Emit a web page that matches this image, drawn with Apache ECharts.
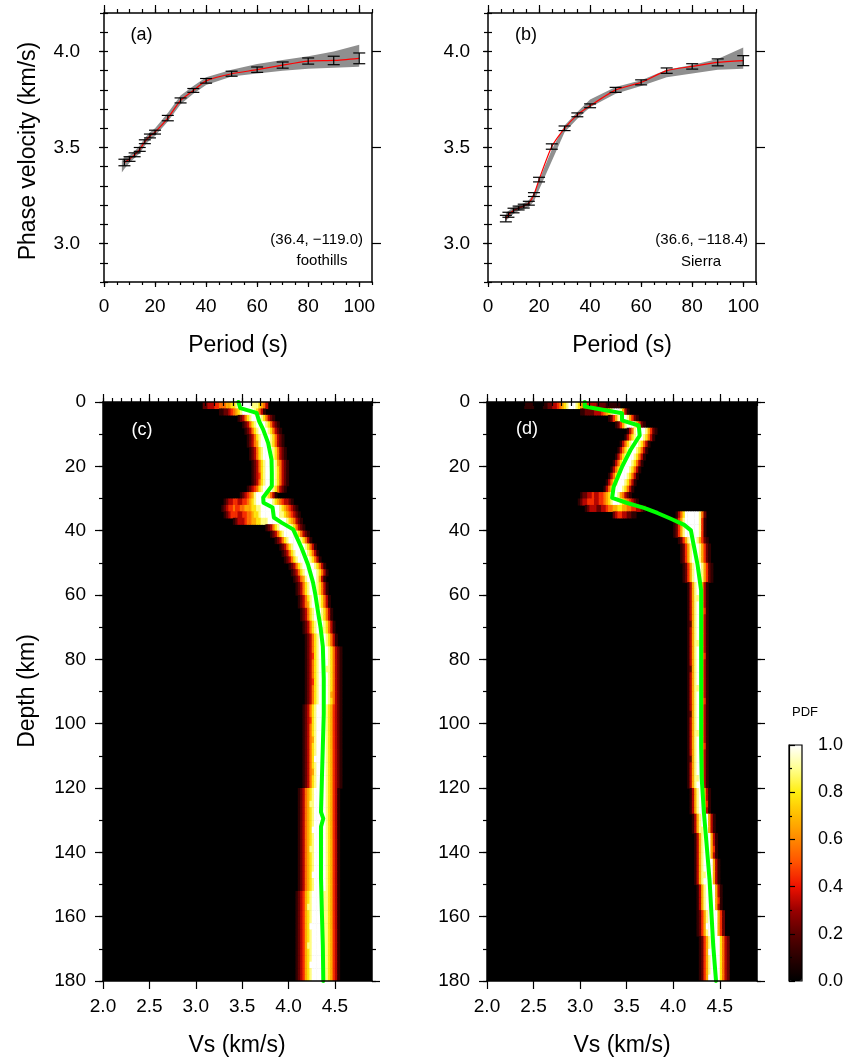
<!DOCTYPE html>
<html><head><meta charset="utf-8">
<script src="https://cdn.jsdelivr.net/npm/echarts@6/dist/echarts.min.js"></script>
<style>html,body{margin:0;padding:0;background:#fff;}#chart{width:850px;height:1061px;}</style>
</head><body><div id="chart"></div>
<script>
// ---------------- data ----------------
const periodsA = [8,10,12,14,16,18,20,25,30,35,40,50,60,70,80,90,100];
const velA = [3.422,3.44,3.462,3.49,3.53,3.56,3.58,3.653,3.745,3.797,3.847,3.884,3.905,3.929,3.95,3.953,3.964];
const errA = [0.017,0.012,0.01,0.01,0.01,0.01,0.01,0.014,0.013,0.01,0.012,0.013,0.014,0.016,0.016,0.022,0.028];
const bandPeriodsA = [7,8,10,12,14,16,18,20,25,30,35,40,50,60,70,80,90,100];
const bandHiA = [3.43,3.45,3.46,3.48,3.51,3.55,3.58,3.60,3.68,3.77,3.82,3.865,3.905,3.935,3.955,3.975,4.00,4.035];
const bandLoA = [3.37,3.39,3.42,3.445,3.47,3.51,3.54,3.56,3.635,3.725,3.78,3.825,3.87,3.885,3.90,3.91,3.915,3.92];

const periodsB = [7,8,10,12,14,16,18,20,25,30,35,40,50,60,70,80,90,100];
const velB = [3.13,3.15,3.172,3.185,3.195,3.21,3.255,3.333,3.505,3.60,3.67,3.717,3.80,3.839,3.90,3.922,3.943,3.952];
const errB = [0.017,0.013,0.012,0.01,0.01,0.01,0.01,0.012,0.014,0.012,0.01,0.01,0.013,0.013,0.014,0.014,0.018,0.026];
const bandPeriodsB = [7,8,10,12,14,16,18,20,25,30,35,40,50,60,70,80,90,100];
const bandHiB = [3.16,3.17,3.19,3.20,3.21,3.225,3.26,3.33,3.49,3.615,3.685,3.75,3.815,3.85,3.905,3.93,3.96,4.02];
const bandLoB = [3.12,3.13,3.155,3.17,3.18,3.19,3.22,3.28,3.43,3.58,3.65,3.71,3.78,3.82,3.865,3.885,3.905,3.91];

// mean Vs models (green lines)
const greenDepthC = [0,1.9,3.4,6,8.6,12.7,17.9,22,26.1,29.7,31.3,32.8,35.9,37.5,39.6,45.3,50.5,56.2,60,65.6,70,76,86,97,107,117,127.5,129.5,132,138,148,159,169,180];
const greenVsC = [3.46,3.48,3.656,3.684,3.727,3.78,3.817,3.82,3.82,3.727,3.73,3.828,3.842,3.925,4.05,4.14,4.21,4.265,4.29,4.32,4.345,4.37,4.38,4.38,4.37,4.36,4.35,4.375,4.35,4.35,4.35,4.36,4.37,4.375];
const greenDepthD = [0,1.4,3.5,5.7,7.3,10.4,15,20.2,26.4,29.8,31.4,32.9,34.5,36.3,38.2,39.9,43,50.3,58.6,65.6,76,86,97,107,117,127.7,138,148.4,158.7,169,180];
const greenVsD = [3.05,3.05,3.45,3.45,3.63,3.64,3.54,3.45,3.36,3.344,3.506,3.686,3.83,3.974,4.118,4.19,4.21,4.26,4.30,4.30,4.30,4.30,4.30,4.30,4.306,4.33,4.36,4.39,4.41,4.43,4.46];

// PDF rows: [top depth (km, 2 km rows), first Vs bin (0.025 km/s bins from 2.0), PDF digits 0-9 (= value*9)]
const pdfRowsC = [
 [0,43,"2233344555667789999998887653"],
 [2,50,"11223456789999987531"],
 [4,58,"1235789999875321"],
 [6,60,"1235789999875321"],
 [8,61,"1235789999875321"],
 [10,62,"1235789999875321"],
 [12,62,"1235689999875321"],
 [14,63,"1235789999875321"],
 [16,63,"1235789999875321"],
 [18,64,"1235789999865321"],
 [20,64,"1235789999875321"],
 [22,64,"1234789999875321"],
 [24,64,"1235789999875321"],
 [26,62,"12345789999875321"],
 [28,59,"1234568999987531"],
 [30,52,"123344334456789999999876543321"],
 [32,51,"123445445566677889999999987654321"],
 [34,52,"123444334455677899999999887654321"],
 [36,56,"123334556677888999999998765321"],
 [38,70,"12357899999875321"],
 [40,72,"12357899999875321"],
 [42,74,"1235789999987531"],
 [44,76,"1235789999987531"],
 [46,77,"1235789999987531"],
 [48,78,"1235789999987531"],
 [50,80,"1235789999987531"],
 [52,81,"1235789999987531"],
 [54,82,"12356899998631"],
 [56,83,"12357899987531"],
 [58,83,"12357899987531"],
 [60,84,"12357899987531"],
 [62,84,"12356899987531"],
 [64,85,"12357899987531"],
 [66,85,"12357899987531"],
 [68,86,"12357899987531"],
 [70,86,"12357899887531"],
 [72,87,"12357899987531"],
 [74,87,"12357899987531"],
 [76,87,"1235789999875321"],
 [78,87,"1234789999875321"],
 [80,87,"1235789999875321"],
 [82,87,"1235789998875321"],
 [84,87,"1235789999875321"],
 [86,87,"1234789999875321"],
 [88,87,"1235789999875321"],
 [90,87,"1235789999865321"],
 [92,87,"1235789999875321"],
 [94,86,"12357899998764321"],
 [96,86,"12357899998764321"],
 [98,86,"12347899998764321"],
 [100,86,"12357899998764321"],
 [102,86,"12357899998764321"],
 [104,86,"12356899998764321"],
 [106,86,"12357899998764321"],
 [108,86,"12357899998764321"],
 [110,86,"12357999998764321"],
 [112,86,"12357899998764321"],
 [114,86,"12356899998764321"],
 [116,86,"12357899998764321"],
 [118,86,"12357899998764321"],
 [120,84,"123567899999876431"],
 [122,84,"123567899999876431"],
 [124,84,"123568899999876431"],
 [126,84,"123567899999876431"],
 [128,84,"123567899999876431"],
 [130,84,"123567899999876431"],
 [132,84,"123567999999876431"],
 [134,84,"123567899999876431"],
 [136,84,"123567899999876431"],
 [138,84,"123568899999876431"],
 [140,84,"123567899999876431"],
 [142,84,"123567899999876431"],
 [144,84,"123567899999876431"],
 [146,84,"123567999999876431"],
 [148,84,"123567899999876431"],
 [150,84,"123567899999876431"],
 [152,83,"1234678999998876431"],
 [154,83,"1234678999998876431"],
 [156,83,"1234688999998876431"],
 [158,83,"1234678999998876431"],
 [160,83,"1234678999998876431"],
 [162,83,"1234679999998876431"],
 [164,83,"1234678999998876431"],
 [166,83,"1234678999998876431"],
 [168,83,"1234688999998876431"],
 [170,83,"1234678999998876431"],
 [172,83,"1234678999998876431"],
 [174,83,"1234679999998876431"],
 [176,83,"1234678999998876431"],
 [178,83,"1234678999998876431"]
];
const pdfRowsD = [
 [0,16,"11110000112233456789998765443332222111111"],
 [2,40,"112222333456789998631"],
 [4,52,"1246899986421"],
 [6,55,"1246899986421"],
 [8,60,"1358999986421"],
 [10,59,"1357899987531"],
 [12,57,"1357899987531"],
 [14,56,"1357899987531"],
 [16,55,"1357899987531"],
 [18,54,"1357899987531"],
 [20,53,"1357899987531"],
 [22,52,"1357899987531"],
 [24,51,"1357899987531"],
 [26,50,"1357899987531"],
 [28,40,"1223343344567999865321"],
 [30,39,"12334443344567899987654321"],
 [32,42,"12333223345566776655443321"],
 [34,54,"2344332211"],
 [34,81,"1357999999852"],
 [36,80,"12468999999841"],
 [38,80,"12468999999841"],
 [40,80,"12468999999841"],
 [42,82,"1246899986421"],
 [44,83,"1246899986421"],
 [46,83,"1246899986421"],
 [48,83,"1246899986421"],
 [50,84,"1246899986421"],
 [52,84,"1246899986421"],
 [54,84,"1246899986421"],
 [56,86,"136899631"],[58,86,"136899631"],[60,86,"136889631"],[62,86,"136899631"],
 [64,86,"136899641"],[66,86,"136899631"],[68,86,"126899631"],[70,86,"136899631"],
 [72,86,"136899631"],[74,86,"136889631"],[76,86,"136899631"],[78,86,"136899641"],
 [80,86,"136899631"],[82,86,"126899631"],[84,86,"136899631"],[86,86,"136899631"],
 [88,86,"136889631"],[90,86,"136899631"],[92,86,"136899641"],[94,86,"136899631"],
 [96,86,"126899631"],[98,86,"136899631"],[100,86,"136899631"],[102,86,"136889631"],
 [104,86,"136899631"],[106,86,"136899641"],[108,86,"136899631"],[110,86,"126899631"],
 [112,86,"136899631"],[114,86,"136899631"],[116,86,"136889631"],[118,86,"136899631"],
 [120,87,"136899631"],[122,87,"136899631"],[124,87,"136899641"],[126,87,"136899631"],
 [128,88,"1368999631"],[130,88,"1368999631"],[132,88,"1368899631"],
 [134,89,"1368999631"],[136,89,"1368999631"],[138,89,"1368999641"],[140,89,"1368999631"],
 [142,89,"13689999631"],[144,89,"13689999631"],[146,89,"13688999631"],[148,89,"13689999631"],
 [150,90,"13689999631"],[152,90,"13689999631"],[154,90,"13689999641"],[156,90,"13689999631"],
 [158,90,"124689999642"],[160,90,"124689999642"],[162,90,"124699999642"],[164,90,"124689999642"],
 [166,91,"1246899997532"],[168,91,"1246899997532"],[170,91,"1246999997532"],[172,91,"1246899997532"],
 [174,91,"1246899997532"],[176,91,"1246899997532"],[178,91,"1246999997532"]
];

// tick values
const periodMajor = [0,20,40,60,80,100];
const periodMinor = [0,5,10,15,20,25,30,35,40,45,50,55,60,65,70,75,80,85,90,95,100,105];
const velMajor = [3.0,3.5,4.0];
const velMinor = [2.8,2.9,3.0,3.1,3.2,3.3,3.4,3.5,3.6,3.7,3.8,3.9,4.0,4.1,4.2];
const vsMajor = [2.0,2.5,3.0,3.5,4.0,4.5];
const vsMinor = [2.0,2.1,2.2,2.3,2.4,2.5,2.6,2.7,2.8,2.9,3.0,3.1,3.2,3.3,3.4,3.5,3.6,3.7,3.8,3.9,4.0,4.1,4.2,4.3,4.4,4.5,4.6,4.7,4.8,4.9];
const depthMajor = [0,20,40,60,80,100,120,140,160,180];
const depthMinor = [0,10,20,30,40,50,60,70,80,90,100,110,120,130,140,150,160,170,180];
const pdfBinVs = 0.025, pdfBinDepth = 2;

// ---------------- chart ----------------
const FONT = '"Liberation Sans", Arial, Helvetica, sans-serif';
const hot = ['#000000','#2a0000','#5a0000','#9a0000','#ee1100','#ff5000','#ff8800','#ffbb00','#ffee10','#ffff90','#ffffff'];

function cellsFrom(rows){
  const out = [];
  rows.forEach(r => {
    for (let j = 0; j < r[2].length; j++) {
      const v = +r[2][j] / 9;
      if (v > 0) out.push([2.0 + (r[1] + j) * pdfBinVs, r[0], v]);
    }
  });
  return out;
}

function axisSet(g, o){
  const base = {gridIndex:g, type:'value', min:o.min, max:o.max, inverse:!!o.inverse, splitLine:{show:false}, z:10};
  const line = {show:true, onZero:false, lineStyle:{color:'#000', width:1.5}};
  const tick = (vals,len)=>({show:true, inside:false, length:len, customValues:vals, lineStyle:{color:'#000', width:1.2}});
  return [
    Object.assign({}, base, {position:o.p1, axisLine:line, axisTick:tick(o.major,o.l1), axisLabel:{show:true, customValues:o.major, formatter:o.fmt, margin:o.margin, fontSize:o.fs, fontFamily:FONT, color:'#000'}}),
    Object.assign({}, base, {position:o.p1, axisLine:{show:false}, axisTick:tick(o.minor,o.l1m), axisLabel:{show:false}}),
    Object.assign({}, base, {position:o.p2, axisLine:line, axisTick:tick(o.major,o.l2), axisLabel:{show:false}}),
    Object.assign({}, base, {position:o.p2, axisLine:{show:false}, axisTick:tick(o.minor,o.l2m), axisLabel:{show:false}})
  ];
}

const fmtInt = v => String(Math.round(v));
const fmt1 = v => Number(v).toFixed(1);

const xAxes = [], yAxes = [];
[[0,24],[1,18]].forEach(([g,m]) => {
  xAxes.push(...axisSet(g,{min:0,max:105,major:periodMajor,minor:periodMinor,fmt:fmtInt,p1:'bottom',p2:'top',l1:5,l1m:3,l2:8,l2m:4,margin:15,fs:19}));
  yAxes.push(...axisSet(g,{min:2.8,max:4.2,major:velMajor,minor:velMinor,fmt:fmt1,p1:'left',p2:'right',l1:5,l1m:4,l2:9,l2m:4,margin:m,fs:19}));
});
[2,3].forEach(g => {
  xAxes.push(...axisSet(g,{min:2.0,max:4.9,major:vsMajor,minor:vsMinor,fmt:fmt1,p1:'bottom',p2:'top',l1:8,l1m:4,l2:8,l2m:4,margin:16,fs:19}));
  yAxes.push(...axisSet(g,{min:0,max:180,inverse:true,major:depthMajor,minor:depthMinor,fmt:fmtInt,p1:'left',p2:'right',l1:8,l1m:4,l2:8,l2m:4,margin:17,fs:19}));
});
xAxes.push({gridIndex:4, type:'value', min:0, max:1, show:false});
yAxes.push({gridIndex:4, type:'value', min:0, max:1, interval:0.2, position:'right', z:10,
  axisLine:{show:true, lineStyle:{color:'#000', width:1.2}},
  axisTick:{show:true, length:6, lineStyle:{color:'#000', width:1.2}},
  minorTick:{show:true, splitNumber:2, length:3, lineStyle:{color:'#000', width:1.2}},
  splitLine:{show:false}, minorSplitLine:{show:false},
  axisLabel:{formatter:fmt1, margin:16, fontSize:18, fontFamily:FONT, color:'#000'}});

function bandSeries(ax, per, lo, hi){
  return {type:'custom', xAxisIndex:ax, yAxisIndex:ax, silent:true, z:1,
    data: per.map((p,i)=>[p, lo[i], hi[i]]), encode:{x:0, y:[1,2]},
    renderItem(params, api){
      if (params.dataIndex !== 0) return null;
      const pts = [];
      for (let i=0;i<per.length;i++) pts.push(api.coord([per[i], hi[i]]));
      for (let i=per.length-1;i>=0;i--) pts.push(api.coord([per[i], lo[i]]));
      return {type:'polygon', shape:{points:pts}, style:{fill:'#8f8f8f'}};
    }};
}
function lineSeries(ax, per, vel){
  return {type:'line', xAxisIndex:ax, yAxisIndex:ax, data: per.map((p,i)=>[p, vel[i]]), showSymbol:false, smooth:0.2, z:3,
    lineStyle:{color:'#ff0000', width:1.2}, silent:true};
}
function errSeries(ax, per, vel, err){
  return {type:'custom', xAxisIndex:ax, yAxisIndex:ax, silent:true, z:4,
    data: per.map((p,i)=>[p, vel[i], err[i]]), encode:{x:0, y:1},
    renderItem(params, api){
      const p = api.value(0), v = api.value(1), e = api.value(2);
      const a = api.coord([p, v+e]), b = api.coord([p, v-e]);
      const w = 6, st = {stroke:'#000', lineWidth:1.2};
      return {type:'group', children:[
        {type:'line', shape:{x1:a[0],y1:a[1],x2:b[0],y2:b[1]}, style:st},
        {type:'line', shape:{x1:a[0]-w,y1:a[1],x2:a[0]+w,y2:a[1]}, style:st},
        {type:'line', shape:{x1:b[0]-w,y1:b[1],x2:b[0]+w,y2:b[1]}, style:st}
      ]};
    }};
}
function heatSeries(ax, rows){
  return {type:'custom', xAxisIndex:ax, yAxisIndex:ax, silent:true, z:2, clip:true,
    data: cellsFrom(rows), encode:{x:0, y:1},
    renderItem(params, api){
      const vs = api.value(0), d = api.value(1);
      const p1 = api.coord([vs, d]), p2 = api.coord([vs + pdfBinVs, d + pdfBinDepth]);
      return {type:'rect', shape:{x:p1[0], y:Math.min(p1[1],p2[1]), width:(p2[0]-p1[0])+0.6, height:Math.abs(p2[1]-p1[1])+0.6},
        style:{fill: api.visual('color')}};
    }};
}
function greenSeries(ax, depth, vs){
  return {type:'line', xAxisIndex:ax, yAxisIndex:ax, data: depth.map((d,i)=>[vs[i], d]), showSymbol:false, z:5, silent:true, clip:true,
    lineStyle:{color:'#00ff00', width:4, join:'round', cap:'round'}};
}

const series = [
  bandSeries(0, bandPeriodsA, bandLoA, bandHiA), lineSeries(0, periodsA, velA), errSeries(0, periodsA, velA, errA),
  bandSeries(4, bandPeriodsB, bandLoB, bandHiB), lineSeries(4, periodsB, velB), errSeries(4, periodsB, velB, errB),
  heatSeries(8, pdfRowsC), greenSeries(8, greenDepthC, greenVsC),
  heatSeries(12, pdfRowsD), greenSeries(12, greenDepthD, greenVsD)
];

function txt(x, y, text, size, opts){
  opts = opts || {};
  const align = opts.align || 'center';
  const el = {type:'text', x:x, y:y, z:100, silent:true,
    style:{text:text, fill:opts.color||'#000', font: size+'px '+FONT, fontSize:size, fontFamily:FONT,
      textAlign:align, align:align, textVerticalAlign:'middle', verticalAlign:'middle'}};
  if (opts.rot) el.rotation = opts.rot;
  return el;
}

const graphics = [
  txt(141.5, 35, '(a)', 18), txt(526, 35, '(b)', 18),
  txt(142, 430, '(c)', 18, {color:'#fff'}), txt(527, 429, '(d)', 18, {color:'#fff'}),
  txt(363, 240, '(36.4, \u2212119.0)', 15, {align:'right'}), txt(322, 261, 'foothills', 15),
  txt(748, 240, '(36.6, \u2212118.4)', 15, {align:'right'}), txt(701, 262, 'Sierra', 15),
  txt(29, 151, 'Phase velocity (km/s)', 23, {rot:Math.PI/2}),
  txt(238, 346, 'Period (s)', 23), txt(622, 346, 'Period (s)', 23),
  txt(28, 691, 'Depth (km)', 23, {rot:Math.PI/2}),
  txt(237, 1046, 'Vs (km/s)', 23), txt(622, 1046, 'Vs (km/s)', 23),
  txt(805, 712, 'PDF', 13),
  {type:'rect', z:100, silent:true, shape:{x:789, y:745, width:13, height:236}, style:{fill:null, stroke:'#000', lineWidth:1.2}}
];

const chart = echarts.init(document.getElementById('chart'), null, {renderer:'canvas'});
chart.setOption({
  animation:false,
  backgroundColor:'#fff',
  grid:[
    {left:104, top:13, width:268, height:269, containLabel:false},
    {left:488, top:13, width:268, height:269, containLabel:false},
    {left:103, top:402, width:269, height:579, show:true, backgroundColor:'#000', borderWidth:0, containLabel:false},
    {left:487, top:402, width:270, height:579, show:true, backgroundColor:'#000', borderWidth:0, containLabel:false},
    {left:789, top:745, width:13, height:236, containLabel:false}
  ],
  xAxis: xAxes,
  yAxis: yAxes,
  visualMap:[{type:'continuous', min:0, max:1, dimension:2, seriesIndex:[6,8], inRange:{color:hot},
    show:true, calculable:false, left:789, top:745, itemWidth:13, itemHeight:236, padding:0, text:null, hoverLink:false}],
  series: series,
  graphic: graphics
});
</script></body></html>
